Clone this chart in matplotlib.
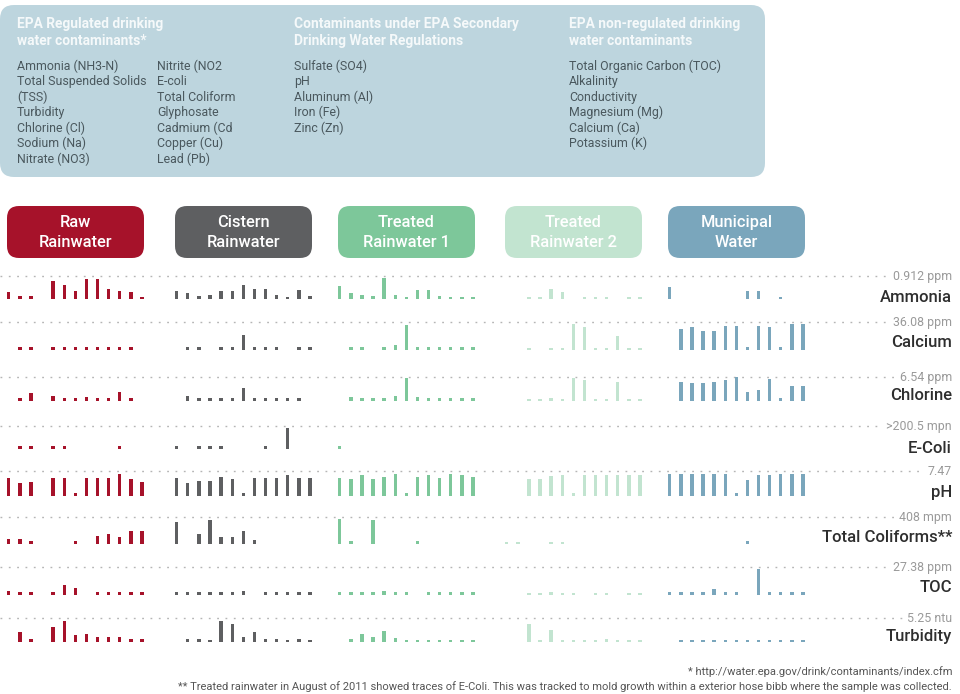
import numpy as np
import matplotlib.pyplot as plt
from matplotlib.patches import FancyBboxPatch

N = np.nan

# sources (columns) and their colours
groups = ['Raw\nRainwater', 'Cistern\nRainwater', 'Treated\nRainwater 1',
          'Treated\nRainwater 2', 'Municipal\nWater']
group_colors = ['#a6122a', '#5e5f61', '#7dc79a', '#c2e4d0', '#7aa6bc']

# rows and the max value each row is scaled to
rows = ['Ammonia', 'Calcium', 'Chlorine', 'E-Coli', 'pH',
        'Total Coliforms**', 'TOC', 'Turbidity']
row_max = ['0.912 ppm', '36.08 ppm', '6.54 ppm', '>200.5 mpn', '7.47',
           '408 mpm', '27.38 ppm', '5.25 ntu']

# monthly samples, % of the row max (NaN = no sample)
ammonia = [[32, 13, 13, N, 87, 68, 40, 95, 95, 49, 40, 33, 10],
           [40, 29, 13, 21, 40, 40, 68, 49, 49, 21, 10, 44, 16],
           [60, 29, 21, 16, 100, 21, 10, 44, 44, 16, 10, 10, 10],
           [N, N, 8, 8, 48, 32, N, 8, 8, 8, N, 8, 8],
           [56, N, N, N, N, N, N, 40, 40, N, 8, N, N]]
calcium = [[N, 10, 10, N, 10, 10, 10, 10, 10, 10, 10, 10, N],
           [N, 10, 10, N, 10, 10, 58, 10, 10, 10, N, 10, 10],
           [N, 10, 10, N, 10, 19, 96, 10, 10, 10, 10, 10, 10],
           [N, N, 8, N, 8, 8, 100, 87, 8, 8, 55, 8, 8],
           [N, 79, 87, 74, 74, 94, 94, 10, 94, 90, 10, 100, 100]]
chlorine = [[N, 14, 32, N, 23, 14, 11, 17, 11, 14, 37, 14, N],
            [N, 21, 11, 11, 11, 11, 54, 11, 11, 11, 11, 11, N],
            [N, 18, 11, 11, 14, 23, 99, 18, 11, 11, 11, 11, 11],
            [N, N, 7, 7, 11, 7, 96, 89, 7, 7, 79, 7, 7],
            [N, 82, 75, 75, 82, 89, 100, 39, 46, 92, 11, 63, 63]]
ecoli = [[N, 13, 13, N, 13, 13, N, N, N, N, 13, N, N],
         [13, N, 13, 13, 13, N, N, N, 13, N, 100, N, N],
         [13, N, N, N, N, N, N, N, N, N, N, N, N],
         [N] * 13,
         [N] * 13]
ph = [[82, 58, 63, N, 82, 82, 12, 82, 82, 82, 100, 78, 63],
      [82, 58, 67, 67, 85, 78, 12, 81, 81, 81, 96, 82, 82],
      [81, 78, 93, 78, 85, 100, 12, 85, 93, 82, 99, 96, 85],
      [N, N, 78, 78, 90, 93, 12, 93, 93, 93, 93, 96, 96],
      [100, 100, 100, 100, 100, 100, 12, 73, 96, 96, 100, 100, 100]]
coliforms = [[20, 20, 11, N, N, N, 11, N, 30, 39, 26, 53, 53],
             [86, N, 41, 96, 28, 28, 53, 14, N, N, N, N, N],
             [100, 11, N, 96, N, N, N, 11, N, N, N, N, N],
             [8, 8, N, N, 8, 8, N, N, N, N, N, N, N],
             [N, N, N, N, N, N, N, 10, N, N, N, N, N]]
toc = [[15, 10, 10, N, 10, 38, 26, N, 10, 10, 10, 10, 10],
       [10, 10, 10, 10, 10, 10, 15, N, 10, 10, 10, 10, 10],
       [10, 10, 10, 10, 15, 10, 10, N, 10, 10, 10, 10, 10],
       [N, N, 7, 7, 13, 7, 7, N, 7, 7, N, 7, 7],
       [10, 10, 10, 10, 22, 10, 10, N, 100, 10, 10, 10, 10]]
turbidity = [[N, 48, 13, N, 71, 100, 32, 38, 24, 24, 24, 16, 13],
             [N, 13, 13, 10, 100, 87, 24, 48, 13, 13, 10, 13, 10],
             [N, 13, 37, 24, 51, 21, 10, 10, 10, 10, 10, 10, 10],
             [N, N, 87, 8, 56, 8, 8, 8, 8, 16, 8, 8, 8],
             [N, 10, 10, 10, 10, 10, 10, 10, 10, 10, 10, 10, 10]]
row_data = [ammonia, calcium, chlorine, ecoli, ph, coliforms, toc, turbidity]

# contaminant lists for the top panel
epa_regulated_1 = ['Ammonia (NH3-N)', 'Total Suspended Solids', '(TSS)', 'Turbidity',
                   'Chlorine (Cl)', 'Sodium (Na)', 'Nitrate (NO3)']
epa_regulated_2 = ['Nitrite (NO2', 'E-coli', 'Total Coliform', 'Glyphosate',
                   'Cadmium (Cd', 'Copper (Cu)', 'Lead (Pb)']
epa_secondary = ['Sulfate (SO4)', 'pH', 'Aluminum (Al)', 'Iron (Fe)', 'Zinc (Zn)']
non_regulated = ['Total Organic Carbon (TOC)', 'Alkalinity', 'Conductivity',
                 'Magnesium (Mg)', 'Calcium (Ca)', 'Potassium (K)']

# layout (pixels)
group_x0 = [7, 175, 338, 505, 668]
slot_w = 11.1
row_line = [276, 322, 377, 426, 471, 517, 567, 618]
row_base = [299, 350, 401, 449, 496, 544, 595, 642]
row_px = [21, 26, 23.7, 20.7, 22.3, 25.3, 26, 21]
row_label_y = [297, 342, 395, 448, 492, 538, 587, 637]

body_font = ['Roboto', 'DejaVu Sans']

fig = plt.figure(figsize=(9.6, 6.94), dpi=100)
ax = fig.add_axes([0, 0, 1, 1])
ax.set_xlim(0, 960)
ax.set_ylim(694, 0)
ax.axis('off')

# top info panel
ax.add_patch(FancyBboxPatch((0, 5), 765, 172, boxstyle='round,pad=0,rounding_size=14',
                            fc='#bdd5de', ec='none'))
title_c = '#f5f9fa'
text_c = '#4a585e'
titles = [(17, 'EPA Regulated drinking', 'water contaminants*'),
          (294, 'Contaminants under EPA Secondary', 'Drinking Water Regulations'),
          (569, 'EPA non-regulated drinking', 'water contaminants')]
for x0, t1, t2 in titles:
    ax.text(x0, 24, t1, color=title_c, fontsize=9.9, fontweight='bold',
            family=body_font, va='center')
    ax.text(x0, 41, t2, color=title_c, fontsize=9.9, fontweight='bold',
            family=body_font, va='center')
for x0, items in [(17, epa_regulated_1), (157, epa_regulated_2),
                  (294, epa_secondary), (569, non_regulated)]:
    for i, s in enumerate(items):
        ax.text(x0, 66 + i * 15.5, s, color=text_c, fontsize=8.9, family=body_font,
                va='center')

# header buttons
for g, (name, col) in enumerate(zip(groups, group_colors)):
    x0 = group_x0[g]
    ax.add_patch(FancyBboxPatch((x0, 206), 137, 52, boxstyle='round,pad=0,rounding_size=12',
                                fc=col, ec='none'))
    l1, l2 = name.split('\n')
    ax.text(x0 + 68.5, 222, l1, color='white', fontsize=11.8, fontweight='medium',
            family=body_font, ha='center', va='center')
    ax.text(x0 + 68.5, 242, l2, color='white', fontsize=11.8, fontweight='medium',
            family=body_font, ha='center', va='center')

# rows of monthly bars
for r, name in enumerate(rows):
    ax.plot([0, 952], [row_line[r], row_line[r]], color='#b5b5b5', lw=1.0,
            linestyle=(0, (1.3, 4.7)), zorder=1)
    ax.text(952, row_line[r], row_max[r], color='#9a9a9a', fontsize=8.9, family=body_font,
            ha='right', va='center', zorder=3,
            bbox=dict(fc='white', ec='none', pad=3))
    ax.text(952, row_label_y[r], name, color='#2e2e2e', fontsize=12, fontweight='medium',
            family=body_font, ha='right', va='center')
    for g in range(5):
        vals = np.array(row_data[r][g], dtype=float)
        slots = np.arange(len(vals))
        ok = ~np.isnan(vals)
        xs = group_x0[g] + slots[ok] * slot_w + 1.7
        hs = -vals[ok] / 100 * row_px[r]
        ax.bar(xs, hs, width=3.4, bottom=row_base[r], color=group_colors[g], zorder=2)

# footnotes
ax.text(952, 672, '* http://water.epa.gov/drink/contaminants/index.cfm', color='#555555',
        fontsize=8.0, family=body_font, ha='right', va='center')
ax.text(952, 687, '** Treated rainwater in August of 2011 showed traces of E-Coli. '
        'This was tracked to mold growth within a exterior hose bibb where the sample was collected.',
        color='#555555', fontsize=8.0, family=body_font, ha='right', va='center')

fig.savefig('out.png', dpi=100)
